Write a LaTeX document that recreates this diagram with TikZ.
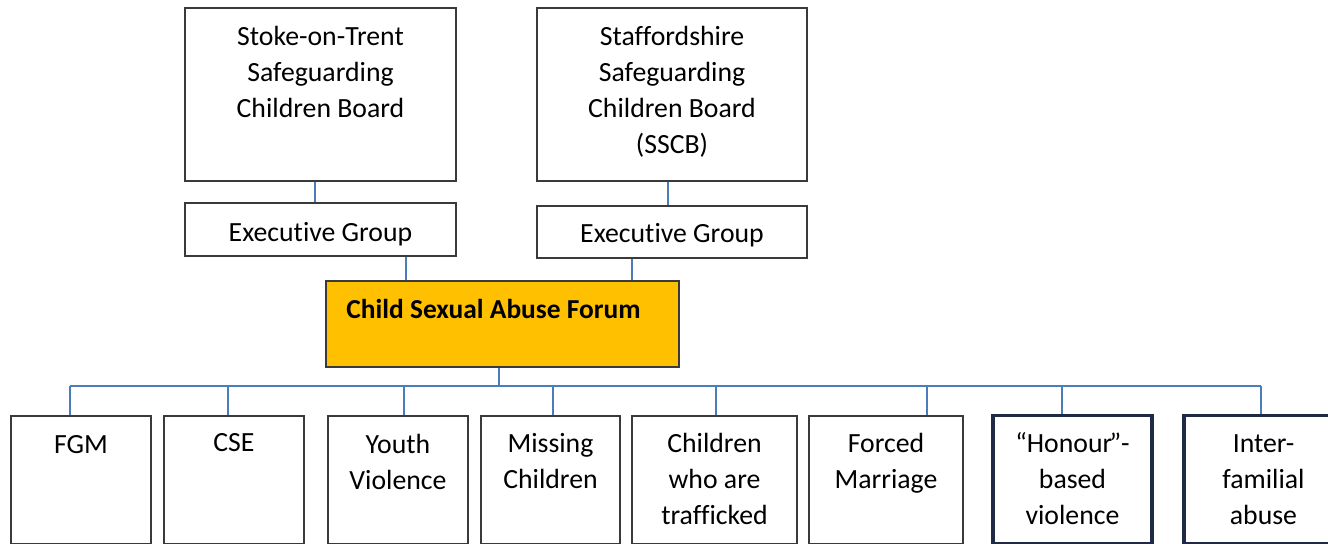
\documentclass[tikz,border=0pt]{standalone}
\usepackage{fontspec}
\setmainfont[Ligatures={TeX,NoCommon}]{Carlito}
\usetikzlibrary{positioning,calc}
\definecolor{linkblue}{HTML}{4A7EBB}
\definecolor{boxline}{HTML}{3A3A3A}
\definecolor{forumfill}{HTML}{FFC000}
\definecolor{navyline}{HTML}{1F2A44}
\tikzset{
    board/.style={draw=boxline, line width=1pt, rectangle, minimum width=5.42cm, minimum height=3.46cm},
    execbox/.style={draw=boxline, line width=1pt, rectangle, minimum width=5.42cm, minimum height=1.06cm},
    forum/.style={draw=boxline, line width=1pt, rectangle, fill=forumfill, minimum width=7.06cm, minimum height=1.72cm},
    topic/.style={draw=boxline, line width=1pt, rectangle, anchor=north, minimum height=2.56cm},
    honour/.style={topic, draw=navyline, line width=1.8pt},
    txt/.style={align=center, anchor=base, inner sep=0pt, font=\fontsize{15.8}{20.5}\selectfont},
    link/.style={draw=linkblue, line width=0.7pt}
}
% anchor=base is the last line, so: 0.77cm + 0.72cm per extra line
\begin{document}
\begin{tikzpicture}[x=0.02cm, y=-0.02cm]
    \useasboundingbox (0,0) rectangle (1328,544);
    \clip (0,0) rectangle (1328,544);

    % boards and executive groups
    \node[board] (stoke) at (320.5,94.5) {};
    \node[board, minimum width=5.40cm] (staffs) at (672,94.5) {};
    \node[txt] (stoketxt) at ([yshift=-2.21cm]stoke.north) {Stoke-on-Trent\\Safeguarding\\Children Board};
    \node[txt] (staffstxt) at ([yshift=-2.93cm]staffs.north) {Staffordshire\\Safeguarding\\Children Board\\(SSCB)};
    \node[execbox] (execA) at (320.5,229.5) {};
    \node[execbox, minimum width=5.40cm, minimum height=1.04cm] (execB) at (672,232) {};
    \node[txt] (execAtxt) at ([yshift=-0.78cm]execA.north) {Execut\kern0ptive Group};
    \node[txt] (execBtxt) at ([yshift=-0.75cm]execB.north) {Execut\kern0ptive Group};

    % forum
    \node[forum] (forum) at (502.5,324) {};
    \node[txt, font=\fontsize{15.6}{20.5}\selectfont\bfseries] (forumtxt) at ([xshift=-0.18cm,yshift=-0.77cm]forum.north) {Child Sexual Abuse Forum};

    % topics
    \node[topic, minimum width=2.8cm] (fgm) at (81,415) {};
    \node[topic, minimum width=2.8cm] (cse) at (234,415) {};
    \node[topic, minimum width=2.8cm] (youth) at (398,415) {};
    \node[topic, minimum width=2.78cm] (missing) at (550.5,415) {};
    \node[topic, minimum width=3.3cm] (traff) at (714.5,415) {};
    \node[topic, minimum width=3.08cm] (forced) at (886,415) {};
    \node[honour, minimum width=3.18cm] (hbv) at (1072.5,414) {};
    \node[honour, minimum width=3.18cm] (inter) at (1263.5,414) {};

    \node[txt] (fgmtxt) at ([yshift=-0.78cm]fgm.north) {FGM};
    \node[txt] (csetxt) at ([yshift=-0.74cm]cse.north) {CSE};
    \node[txt] (youthtxt) at ([yshift=-1.50cm]youth.north) {Youth\\Violence};
    \node[txt] (missingtxt) at ([yshift=-1.48cm]missing.north) {Missing\\Children};
    \node[txt] (trafftxt) at ([yshift=-2.20cm]traff.north) {Children\\who are\\trafficked};
    \node[txt] (forcedtxt) at ([yshift=-1.48cm]forced.north) {Forced\\Marriage};
    \node[txt] (hbvtxt) at ([yshift=-2.22cm]hbv.north) {“Honour\kern-0.1em”-\\based\\violence};
    \node[txt] (intertxt) at ([yshift=-2.22cm]inter.north) {Inter-\\familial\\abuse};

    % connectors
    \draw[link] ([xshift=-0.11cm]stoke.south) -- ([xshift=-0.11cm]execA.north);
    \draw[link] ([xshift=-0.08cm]staffs.south) -- ([xshift=-0.08cm]execB.north);
    \draw[link] (execA.south -| 406,0) -- (forum.north -| 406,0);
    \draw[link] (execB.south -| 632,0) -- (forum.north -| 632,0);

    \coordinate (bus) at (499,386);
    \draw[link] (forum.south -| bus) -- (bus);
    \draw[link] (bus -| 70,0) -- (bus -| 1261,0);
    \foreach \t/\x in {fgm/70, cse/228, youth/404, missing/553, traff/716, forced/927, hbv/1062, inter/1261}
        \draw[link] (bus -| \x,0) -- (\t.north -| \x,0);
\end{tikzpicture}
\end{document}
